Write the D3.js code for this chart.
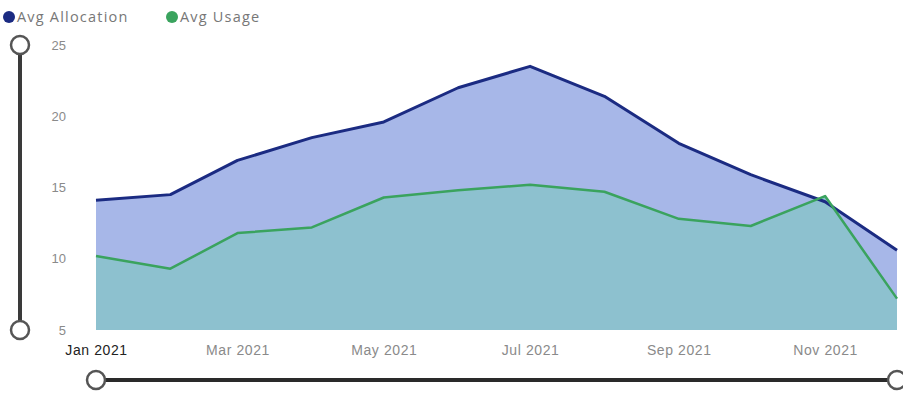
<!DOCTYPE html>
<html>
<head>
<meta charset="utf-8">
<script src="https://cdn.jsdelivr.net/npm/d3@7"></script>
<style>
  body { margin: 0; background: #fff; }
  svg { font-family: "Segoe UI", "Open Sans", "Noto Sans", sans-serif; }
</style>
</head>
<body>
<div id="chart"></div>
<script>
// Data
const months = ["2021-01", "2021-02", "2021-03", "2021-04", "2021-05", "2021-06",
                "2021-07", "2021-08", "2021-09", "2021-10", "2021-11", "2021-12"];
const avgAllocation = [14.1, 14.5, 16.9, 18.5, 19.6, 22.0, 23.5, 21.4, 18.1, 15.9, 14.0, 10.6];
const avgUsage = [10.2, 9.3, 11.8, 12.2, 14.3, 14.8, 15.2, 14.7, 12.8, 12.3, 14.4, 7.2];
const yTicks = [5, 10, 15, 20, 25];

const width = 903, height = 397;
const parse = d3.timeParse("%Y-%m");
const dates = months.map(parse);

const svg = d3.select("#chart").append("svg")
    .attr("width", width)
    .attr("height", height);

const x = d3.scaleTime()
    .domain(d3.extent(dates))
    .range([96, 897]);

const y = d3.scaleLinear()
    .domain([5, 25])
    .range([330, 45]);

// Areas
const areaGen = vals => d3.area()
    .x((d, i) => x(dates[i]))
    .y0(y(5))
    .y1(d => y(d))(vals);

const lineGen = vals => d3.line()
    .x((d, i) => x(dates[i]))
    .y(d => y(d))(vals);

svg.append("path")
    .attr("d", areaGen(avgAllocation))
    .attr("fill", "#a7b7e8");

svg.append("path")
    .attr("d", areaGen(avgUsage))
    .attr("fill", "#8dc1cf");

svg.append("path")
    .attr("d", lineGen(avgAllocation))
    .attr("fill", "none")
    .attr("stroke", "#1b2b82")
    .attr("stroke-width", 3)
    .attr("stroke-linejoin", "round");

svg.append("path")
    .attr("d", lineGen(avgUsage))
    .attr("fill", "none")
    .attr("stroke", "#3aa35e")
    .attr("stroke-width", 2.5)
    .attr("stroke-linejoin", "round");

// Y axis labels (no domain line)
const yAxis = svg.append("g")
    .attr("transform", "translate(66,0)")
    .call(d3.axisLeft(y).tickValues(yTicks).tickSize(0).tickPadding(0));
yAxis.select(".domain").remove();
yAxis.selectAll("text")
    .attr("fill", "#8a8a8a")
    .style("font-size", "13px");

// X axis labels
const xAxis = svg.append("g")
    .attr("transform", "translate(0,342)")
    .call(d3.axisBottom(x).ticks(d3.timeMonth.every(2)).tickFormat(d3.timeFormat("%b %Y")).tickSize(0).tickPadding(3));
xAxis.select(".domain").remove();
xAxis.selectAll("text")
    .attr("fill", (d, i) => i === 0 ? "#222" : "#8a8a8a")
    .style("font-size", "14px")
    .style("letter-spacing", "0.6px");

// Legend
const legend = [
  { name: "Avg Allocation", color: "#1b2b82", x: 9 },
  { name: "Avg Usage", color: "#3aa35e", x: 172 }
];
const lg = svg.append("g").selectAll("g")
    .data(legend)
    .join("g")
    .attr("transform", d => `translate(${d.x},17)`);
lg.append("circle")
    .attr("r", 6)
    .attr("fill", d => d.color);
lg.append("text")
    .attr("x", 8)
    .attr("dy", "0.35em")
    .attr("fill", "#777")
    .style("font-size", "14.5px")
    .style("letter-spacing", "1.2px")
    .text(d => d.name);

// Range sliders
const sliders = svg.append("g");
sliders.append("line")
    .attr("x1", 20).attr("x2", 20)
    .attr("y1", y(25)).attr("y2", y(5))
    .attr("stroke", "#3a3a3a")
    .attr("stroke-width", 4);
sliders.selectAll(".vknob")
    .data([25, 5])
    .join("circle")
    .attr("cx", 20)
    .attr("cy", d => y(d))
    .attr("r", 9)
    .attr("fill", "#fff")
    .attr("stroke", "#555")
    .attr("stroke-width", 2.5);

sliders.append("line")
    .attr("x1", x(dates[0])).attr("x2", 897)
    .attr("y1", 380).attr("y2", 380)
    .attr("stroke", "#2a2a2a")
    .attr("stroke-width", 4);
sliders.selectAll(".hknob")
    .data([dates[0], dates[dates.length - 1]])
    .join("circle")
    .attr("cx", d => x(d))
    .attr("cy", 380)
    .attr("r", 9)
    .attr("fill", "#fff")
    .attr("stroke", "#555")
    .attr("stroke-width", 2.5);
</script>
</body>
</html>
